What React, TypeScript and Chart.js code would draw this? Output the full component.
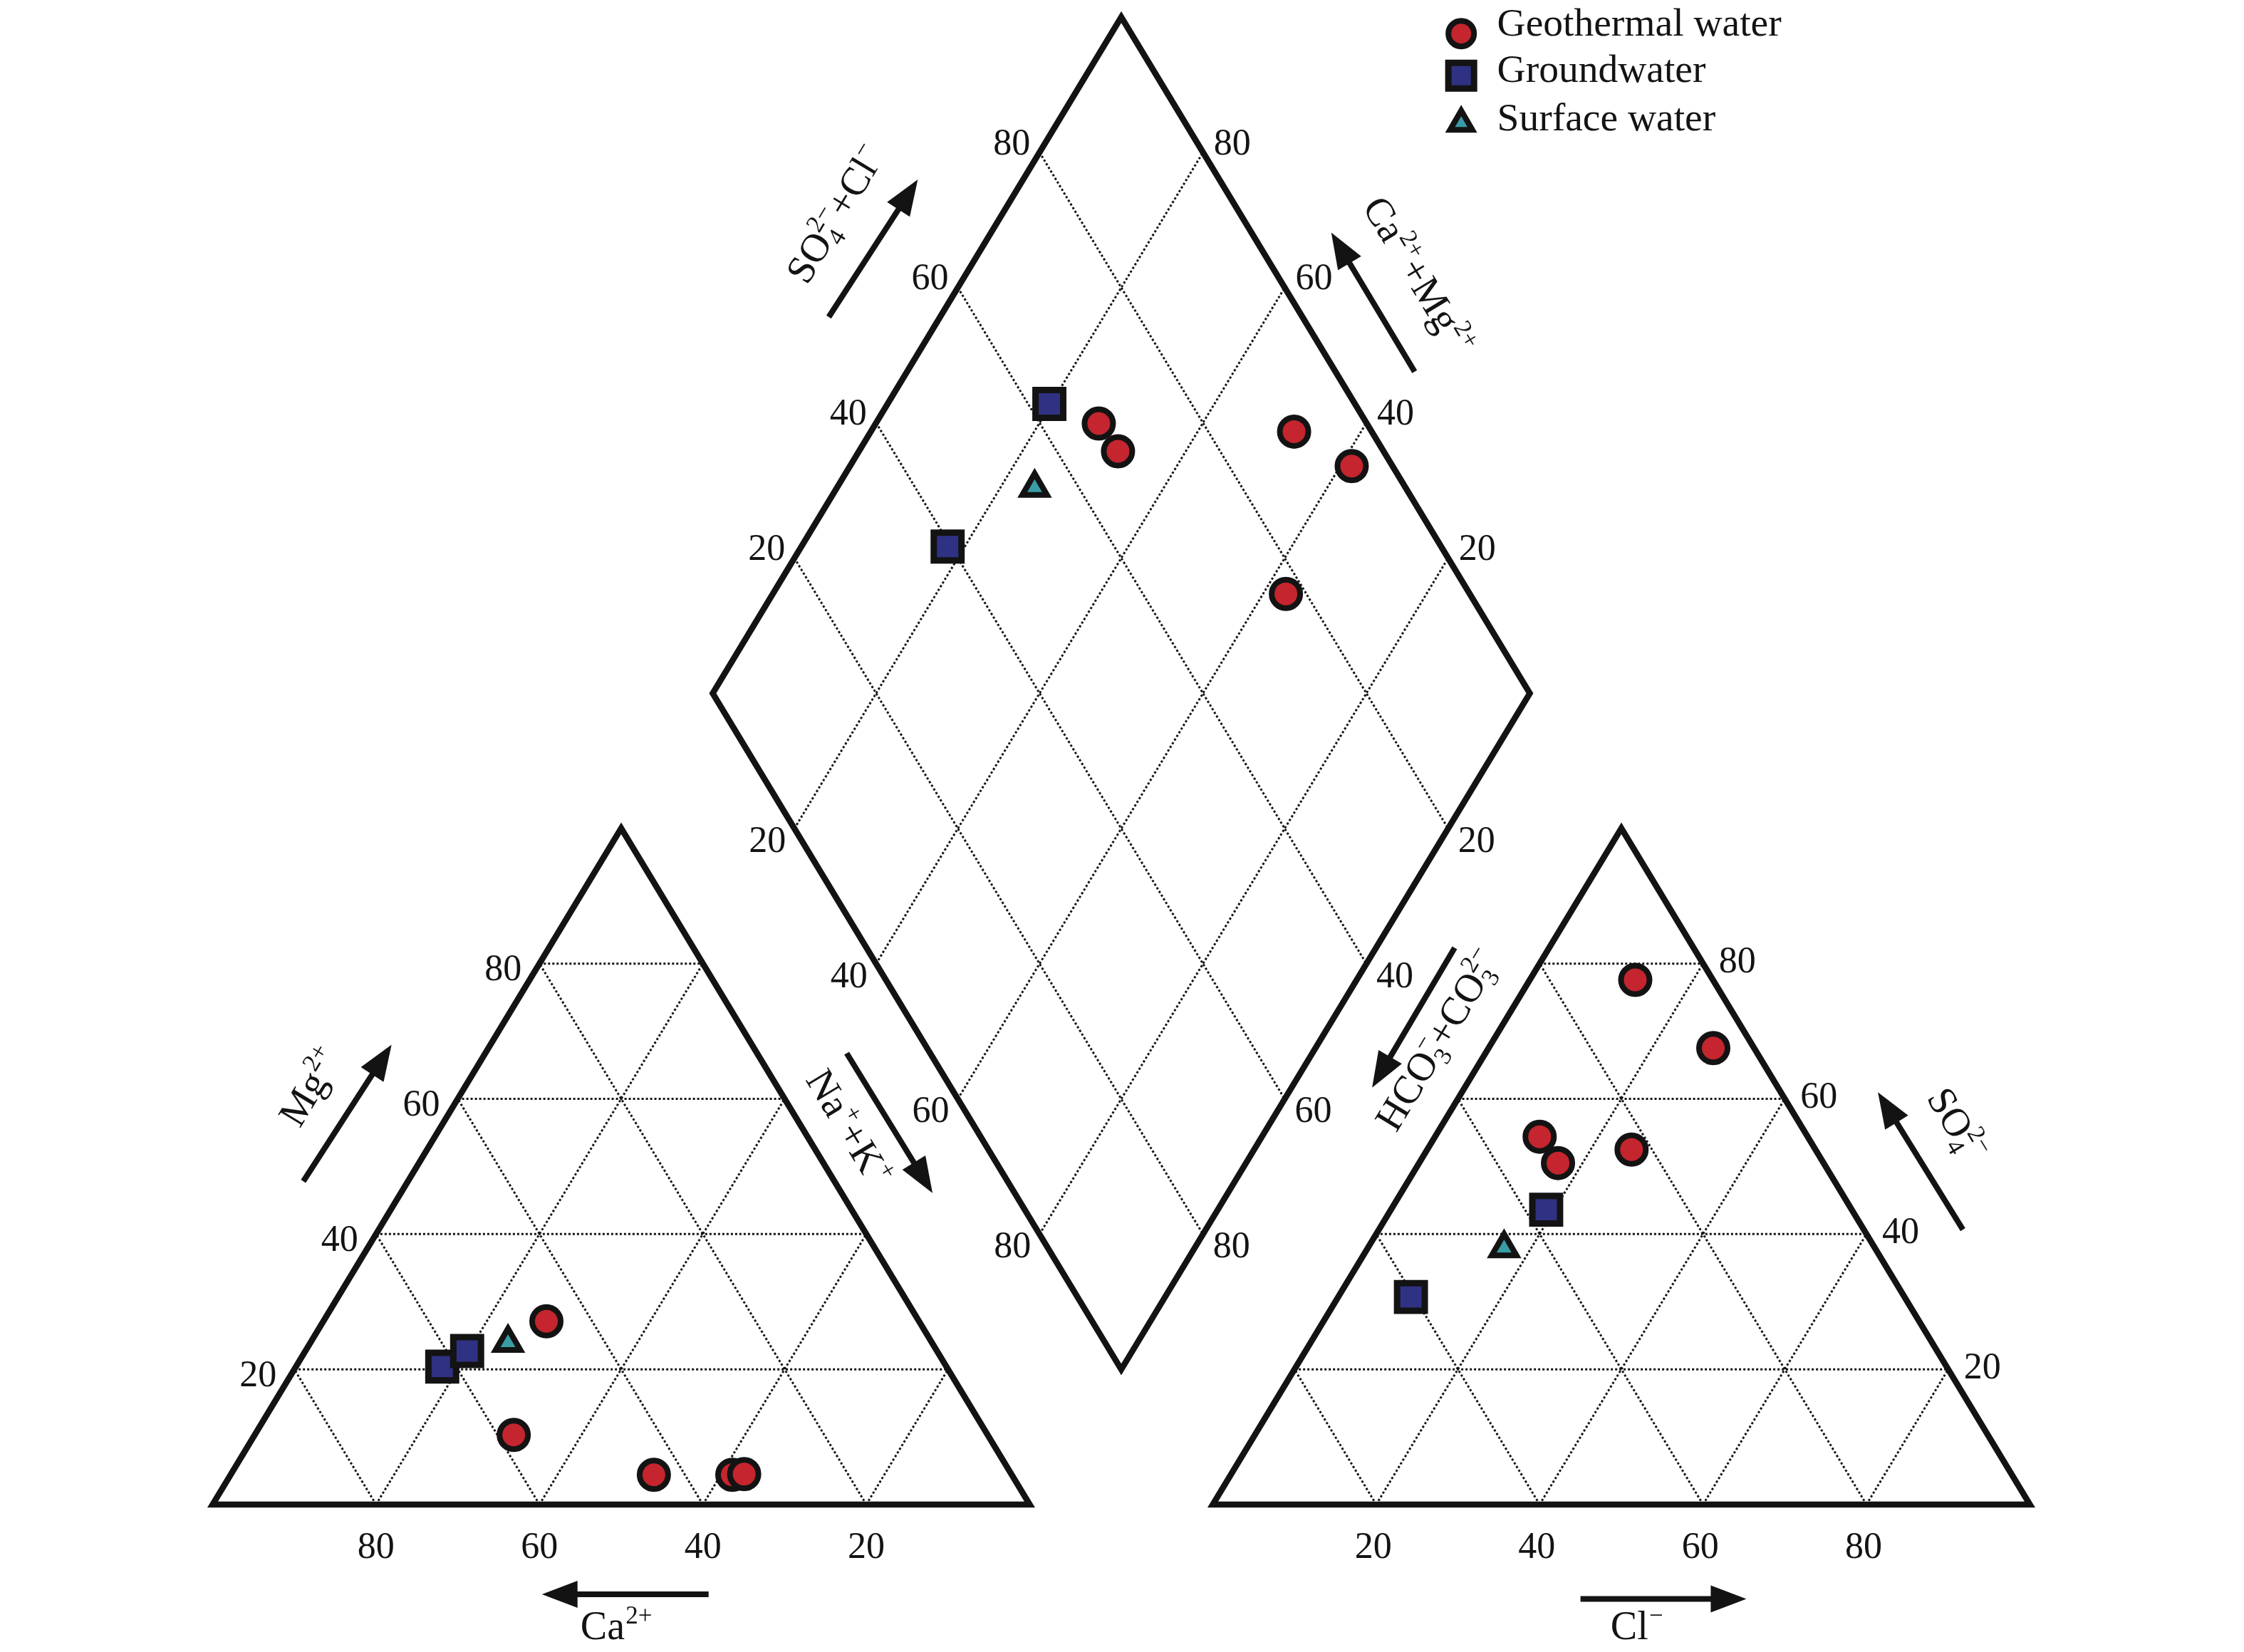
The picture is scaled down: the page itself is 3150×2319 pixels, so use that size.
import React, { useEffect, useRef } from 'react';
import { Chart, registerables } from 'chart.js';
Chart.register(...registerables);

// ---------------- data ----------------
const groupNames = ['Geothermal water', 'Groundwater', 'Surface water'];
const groupFill = ['#c4252e', '#2f3282', '#3a9ca4'];
const groupStyle = ['circle', 'rect', 'triangle'];
const groupRadius = [20, 27.5, 20];
const groupBorder = [8, 9, 8];

// sample -> group index
const sampleGroup = [0, 0, 0, 0, 0, 1, 1, 2];
// cations (% meq)
const caPct = [45.6, 58.0, 43.8, 34.2, 32.7, 61.7, 57.5, 51.9];
const mgPct = [27.1, 10.3, 4.4, 4.4, 4.5, 20.4, 22.7, 23.9];
const naKPct = [27.3, 31.7, 51.8, 61.4, 62.8, 17.9, 19.8, 24.2];
// anions (% meq)
const hco3Pct = [32.8, 32.5, 9.5, 5.0, 22.5, 60.4, 37.4, 45.4];
const so4Pct = [54.4, 50.5, 77.6, 67.5, 52.5, 30.7, 43.6, 37.9];
const clPct = [12.8, 17.0, 12.9, 27.5, 25.0, 8.9, 19.0, 16.7];

const tickValues = [20, 40, 60, 80];

// ---------------- geometry (data units) ----------------
const SIDE = 100;
const GAP = 22.4;
const H = 86.6025;
const D_Y0 = 17.3;
const AX = SIDE + GAP;
const DCX = SIDE + GAP / 2;

type P = { x: number; y: number };
function cation(ca: number, mg: number, na: number): P {
  return { x: na + mg / 2, y: (mg * H) / 100 };
}
function anion(hco3: number, so4: number, cl: number): P {
  return { x: AX + cl + so4 / 2, y: (so4 * H) / 100 };
}
function diamond(n: number, a: number): P {
  return { x: DCX - 50 + (a + n) / 2, y: D_Y0 + H + ((a - n) * H) / 100 };
}

const FONT = '"Liberation Serif", "Times New Roman", "DejaVu Serif", serif';
const INK = '#131313';

type Seg = [string, 'n' | 'sup' | 'sub' | 'ss'];
const T_CA: Seg[] = [['Ca', 'n'], ['2+', 'sup']];
const T_MG: Seg[] = [['Mg', 'n'], ['2+', 'sup']];
const T_NAK: Seg[] = [['Na', 'n'], ['+', 'sup'], ['+K', 'n'], ['+', 'sup']];
const T_CL: Seg[] = [['Cl', 'n'], ['\u2212', 'sup']];
const T_SO4: Seg[] = [['SO', 'n'], ['4', 'sub'], ['2\u2212', 'ss']];
const T_HCO3: Seg[] = [['HCO', 'n'], ['3', 'sub'], ['\u2212', 'ss'], ['+CO', 'n'], ['3', 'sub'], ['2\u2212', 'ss']];
const T_SO4CL: Seg[] = [['SO', 'n'], ['4', 'sub'], ['2\u2212', 'ss'], ['+Cl', 'n'], ['\u2212', 'sup']];
const T_CAMG: Seg[] = [['Ca', 'n'], ['2+', 'sup'], ['+Mg', 'n'], ['2+', 'sup']];

function richLayout(ctx: CanvasRenderingContext2D, segs: Seg[], fs: number, draw: boolean, x0: number, base: number) {
  let x = x0;
  let subX = 0;
  let subW = 0;
  for (const [t, m] of segs) {
    const small = m !== 'n';
    ctx.font = `${small ? Math.round(fs * 0.62) : fs}px ${FONT}`;
    const w = ctx.measureText(t).width;
    if (m === 'n') {
      if (draw) ctx.fillText(t, x, base);
      x += w;
    } else if (m === 'sup') {
      if (draw) ctx.fillText(t, x + fs * 0.02, base - fs * 0.4);
      x += w + fs * 0.02;
    } else if (m === 'sub') {
      subX = x;
      subW = w;
      if (draw) ctx.fillText(t, x, base + fs * 0.2);
      x += w;
    } else {
      if (draw) ctx.fillText(t, subX, base - fs * 0.42);
      x = subX + Math.max(subW, w);
    }
  }
  return x - x0;
}

function drawRich(ctx: CanvasRenderingContext2D, segs: Seg[], cx: number, cy: number, ang: number, fs: number) {
  ctx.save();
  ctx.translate(cx, cy);
  ctx.rotate(ang);
  ctx.textAlign = 'left';
  ctx.textBaseline = 'alphabetic';
  ctx.fillStyle = INK;
  const w = richLayout(ctx, segs, fs, false, 0, 0);
  richLayout(ctx, segs, fs, true, -w / 2, fs * 0.33);
  ctx.restore();
}

function drawArrow(ctx: CanvasRenderingContext2D, x1: number, y1: number, x2: number, y2: number) {
  const a = Math.atan2(y2 - y1, x2 - x1);
  const hl = 50;
  const hw = 19;
  const c = Math.cos(a);
  const s = Math.sin(a);
  const bx = x2 - hl * c;
  const by = y2 - hl * s;
  ctx.save();
  ctx.strokeStyle = INK;
  ctx.fillStyle = INK;
  ctx.lineWidth = 8;
  ctx.lineCap = 'butt';
  ctx.setLineDash([]);
  ctx.beginPath();
  ctx.moveTo(x1, y1);
  ctx.lineTo(bx + 2 * c, by + 2 * s);
  ctx.stroke();
  ctx.beginPath();
  ctx.moveTo(x2, y2);
  ctx.lineTo(bx + hw * s, by - hw * c);
  ctx.lineTo(bx - hw * s, by + hw * c);
  ctx.closePath();
  ctx.fill();
  ctx.restore();
}

// annotation layout (data units)
const titleDefs: { segs: Seg[]; x: number; y: number; rot: 'h' | 'up' | 'down' }[] = [
  { segs: T_CA, x: 49.4, y: -15.6, rot: 'h' },
  { segs: T_CL, x: 174.3, y: -15.6, rot: 'h' },
  { segs: T_MG, x: 11.9, y: 53.5, rot: 'up' },
  { segs: T_NAK, x: 77.9, y: 48.3, rot: 'down' },
  { segs: T_SO4, x: 213.5, y: 48.7, rot: 'down' },
  { segs: T_HCO3, x: 149.9, y: 59.5, rot: 'up' },
  { segs: T_SO4CL, x: 76.2, y: 165.3, rot: 'up' },
  { segs: T_CAMG, x: 147.6, y: 157.4, rot: 'down' },
];
const arrowDefs: [number, number, number, number][] = [
  [60.7, -11.5, 40.3, -11.5],
  [167.4, -12.1, 187.7, -12.1],
  [11.1, 41.4, 21.9, 58.9],
  [77.6, 57.8, 88.1, 39.9],
  [214.2, 35.2, 203.8, 52.8],
  [152.0, 71.3, 141.9, 53.4],
  [75.4, 152.1, 86.3, 169.7],
  [147.1, 145.1, 136.9, 162.9],
];

function markerPath(ctx: CanvasRenderingContext2D, style: string, x: number, y: number, r: number) {
  ctx.beginPath();
  if (style === 'circle') {
    ctx.arc(x, y, r, 0, Math.PI * 2);
  } else if (style === 'rect') {
    const s = Math.SQRT1_2 * r;
    ctx.rect(x - s, y - s, 2 * s, 2 * s);
  } else {
    let a = 0;
    ctx.moveTo(x + Math.sin(a) * r, y - Math.cos(a) * r);
    a += (2 * Math.PI) / 3;
    ctx.lineTo(x + Math.sin(a) * r, y - Math.cos(a) * r);
    a += (2 * Math.PI) / 3;
    ctx.lineTo(x + Math.sin(a) * r, y - Math.cos(a) * r);
    ctx.closePath();
  }
}

const piperPlugin = {
  id: 'piperFrame',
  beforeDatasetsDraw(chart: any) {
    const ctx: CanvasRenderingContext2D = chart.ctx;
    const xs = chart.scales.x;
    const ys = chart.scales.y;
    const px = (p: P): [number, number] => [xs.getPixelForValue(p.x), ys.getPixelForValue(p.y)];
    const seg = (a: P, b: P) => {
      const [x1, y1] = px(a);
      const [x2, y2] = px(b);
      ctx.moveTo(x1, y1);
      ctx.lineTo(x2, y2);
    };
    ctx.save();
    // dotted grid
    ctx.beginPath();
    for (const v of tickValues) {
      seg(cation(100 - v, v, 0), cation(0, v, 100 - v));
      seg(cation(v, 0, 100 - v), cation(v, 100 - v, 0));
      seg(cation(100 - v, 0, v), cation(0, 100 - v, v));
      seg(anion(100 - v, v, 0), anion(0, v, 100 - v));
      seg(anion(v, 0, 100 - v), anion(v, 100 - v, 0));
      seg(anion(100 - v, 0, v), anion(0, 100 - v, v));
      seg(diamond(0, v), diamond(100, v));
      seg(diamond(v, 0), diamond(v, 100));
    }
    ctx.setLineDash([3, 3]);
    ctx.lineWidth = 3;
    ctx.strokeStyle = INK;
    ctx.stroke();

    // frames
    ctx.setLineDash([]);
    ctx.lineWidth = 8.5;
    ctx.lineJoin = 'miter';
    ctx.miterLimit = 10;
    const poly = (pts: P[]) => {
      ctx.beginPath();
      pts.forEach((p, i) => {
        const [x, y] = px(p);
        if (i) ctx.lineTo(x, y);
        else ctx.moveTo(x, y);
      });
      ctx.closePath();
      ctx.stroke();
    };
    poly([cation(100, 0, 0), cation(0, 0, 100), cation(0, 100, 0)]);
    poly([anion(100, 0, 0), anion(0, 0, 100), anion(0, 100, 0)]);
    poly([diamond(0, 0), diamond(100, 0), diamond(100, 100), diamond(0, 100)]);

    // tick labels
    const FS = 52;
    ctx.font = `${FS}px ${FONT}`;
    ctx.fillStyle = INK;
    ctx.textBaseline = 'alphabetic';
    const lab = (t: string, p: P, dx: number, dy: number, align: CanvasTextAlign) => {
      const [x, y] = px(p);
      ctx.textAlign = align;
      ctx.fillText(t, x + dx, y + dy + FS * 0.34);
    };
    for (const v of tickValues) {
      const t = String(v);
      lab(t, cation(100 - v, v, 0), -25, 6, 'right');
      lab(t, cation(v, 0, 100 - v), 0, 57, 'center');
      lab(t, anion(100 - v, 0, v), -4, 57, 'center');
      lab(t, anion(0, v, 100 - v), 22, -5, 'left');
      lab(t, diamond(0, v), -13, -15, 'right');
      lab(t, diamond(100 - v, 100), 15, -15, 'left');
      lab(t, diamond(v, 0), -12, 15, 'right');
      lab(t, diamond(100, 100 - v), 14, 15, 'left');
    }

    // titles
    const [ox, oy] = px(cation(100, 0, 0));
    const [tx, ty] = px(cation(0, 100, 0));
    const [rx, ry] = px(cation(0, 0, 100));
    const angUp = Math.atan2(ty - oy, tx - ox);
    const angDown = Math.atan2(ry - ty, rx - tx);
    for (const d of titleDefs) {
      const [x, y] = px({ x: d.x, y: d.y });
      drawRich(ctx, d.segs, x, y, d.rot === 'h' ? 0 : d.rot === 'up' ? angUp : angDown, 56);
    }
    for (const a of arrowDefs) {
      const [x1, y1] = px({ x: a[0], y: a[1] });
      const [x2, y2] = px({ x: a[2], y: a[3] });
      drawArrow(ctx, x1, y1, x2, y2);
    }
    ctx.restore();
  },
  afterDatasetsDraw(chart: any) {
    const ctx: CanvasRenderingContext2D = chart.ctx;
    const xs = chart.scales.x;
    const ys = chart.scales.y;
    const mx = xs.getPixelForValue(152.8);
    const tx = xs.getPixelForValue(157.2);
    const my = [188.4, 183.0, 176.9].map((v) => ys.getPixelForValue(v));
    const ty = [188.1, 182.2, 176.0].map((v) => ys.getPixelForValue(v));
    const lr = [18, 25.5, 18];
    const lb = [8, 9, 8];
    ctx.save();
    groupNames.forEach((name, g) => {
      markerPath(ctx, groupStyle[g], mx, my[g], lr[g]);
      ctx.fillStyle = groupFill[g];
      ctx.fill();
      ctx.lineWidth = lb[g];
      ctx.lineJoin = 'miter';
      ctx.strokeStyle = INK;
      ctx.stroke();
      ctx.font = `55.5px ${FONT}`;
      ctx.fillStyle = INK;
      ctx.textAlign = 'left';
      ctx.textBaseline = 'alphabetic';
      ctx.fillText(name, tx, ty[g]);
    });
    ctx.restore();
  },
};

export default function App() {
  const ref = useRef<HTMLCanvasElement | null>(null);
  useEffect(() => {
    if (!ref.current) return;
    const datasets = groupNames.map((name, g) => {
      const pts: P[] = [];
      sampleGroup.forEach((sg, i) => {
        if (sg !== g) return;
        pts.push(cation(caPct[i], mgPct[i], naKPct[i]));
        pts.push(anion(hco3Pct[i], so4Pct[i], clPct[i]));
        pts.push(diamond(naKPct[i], so4Pct[i] + clPct[i]));
      });
      return {
        label: name,
        data: pts,
        pointStyle: groupStyle[g],
        pointRadius: groupRadius[g],
        pointHoverRadius: groupRadius[g],
        backgroundColor: groupFill[g],
        borderColor: INK,
        borderWidth: groupBorder[g],
        showLine: false,
        clip: false as any,
      };
    });
    const chart = new Chart(ref.current, {
      type: 'scatter',
      data: { datasets: datasets as any },
      options: {
        animation: false,
        responsive: false,
        devicePixelRatio: 1,
        layout: { padding: 0, autoPadding: false },
        events: [],
        plugins: { legend: { display: false }, tooltip: { enabled: false } },
        scales: {
          x: { type: 'linear', min: -26.02, max: 248.6, display: false },
          y: { type: 'linear', min: -18.89, max: 192.7, display: false },
        },
      },
      plugins: [piperPlugin as any],
    });
    return () => chart.destroy();
  }, []);
  return (
    <div style={{ position: 'absolute', left: 0, top: 0, width: 3150, height: 2319, background: '#fff' }}>
      <canvas ref={ref} width={3150} height={2319} style={{ display: 'block', width: 3150, height: 2319 }} />
    </div>
  );
}
